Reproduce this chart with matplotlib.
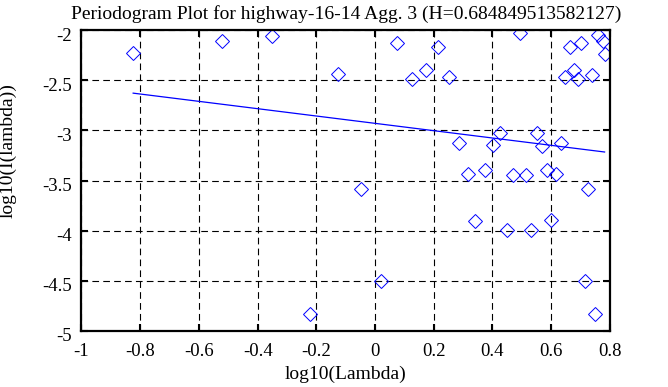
import matplotlib
matplotlib.use('Agg')
import matplotlib.pyplot as plt
from matplotlib.transforms import ScaledTranslation

# periodogram points (log10 lambda, log10 I(lambda))
log_lambda = [-0.824, -0.523, -0.350, -0.1265, -0.0483, -0.223, 0.0187,
              0.0755, 0.1265, 0.172, 0.2137, 0.251, 0.285, 0.317, 0.341,
              0.376, 0.402, 0.427, 0.451, 0.470, 0.495, 0.514, 0.532,
              0.552, 0.569, 0.587, 0.601, 0.617, 0.632, 0.648, 0.6626,
              0.6786, 0.692, 0.701, 0.716, 0.727, 0.739, 0.750, 0.760,
              0.775, 0.783]
log_power = [-2.228, -2.106, -2.053, -2.435, -3.584, -4.838, -4.508,
             -2.122, -2.481, -2.398, -2.169, -2.468, -3.126, -3.432, -3.900,
             -3.392, -3.149, -3.026, -3.990, -3.445, -2.023, -3.445, -3.990,
             -3.030, -3.152, -3.392, -3.893, -3.432, -3.126, -2.461, -2.166,
             -2.395, -2.488, -2.122, -4.508, -3.588, -2.442, -4.834, -2.046,
             -2.106, -2.232]

# least squares fit line end points
fit_x = [-0.824, 0.782]
fit_y = [-2.627, -3.215]

hurst = '0.684849513582127'

plt.rcParams['font.family'] = ['Liberation Serif', 'DejaVu Serif']

fig = plt.figure(figsize=(6.68, 3.87), dpi=100)
ax = fig.add_axes([0.122, 0.1455, 0.791, 0.776])

ax.plot(log_lambda, log_power, linestyle='none', marker='D', markersize=7.3,
        markerfacecolor='none', markeredgecolor='#0000ff', markeredgewidth=0.7)
ax.plot(fit_x, fit_y, color='#0000ff', linewidth=0.9)

ax.set_xlim(-1, 0.8)
ax.set_ylim(-5, -2)
ax.set_xticks([-1, -0.8, -0.6, -0.4, -0.2, 0, 0.2, 0.4, 0.6, 0.8])
ax.set_xticklabels(['-1', '-0.8', '-0.6', '-0.4', '-0.2', '0', '0.2', '0.4', '0.6', '0.8'])
ax.set_yticks([-5, -4.5, -4, -3.5, -3, -2.5, -2])
ax.set_yticklabels(['-5', '-4.5', '-4', '-3.5', '-3', '-2.5', '-2'])

ax.grid(True, color='black', linewidth=0.8, linestyle=(0, (6, 3.8)))
ax.tick_params(direction='in', length=5, width=1.5, labelsize=13.5,
               top=True, right=True)
ax.tick_params(axis='x', pad=9)
ax.tick_params(axis='y', pad=7)
for sp in ax.spines.values():
    sp.set_linewidth(1.6)

# y tick labels sit a little low in the reference
shift = ScaledTranslation(0, -3 / 72, fig.dpi_scale_trans)
for lab in ax.get_yticklabels():
    lab.set_transform(lab.get_transform() + shift)

ax.set_title('Periodogram Plot for highway-16-14 Agg. 3 (H=' + hurst + ')',
             fontsize=14, pad=8)
ax.set_xlabel('log10(Lambda)', fontsize=14, labelpad=4)
ax.set_ylabel('log10(I(lambda))', fontsize=14)
ax.yaxis.set_label_coords(-0.122, 0.6)

plt.savefig('out.png', dpi=100)
